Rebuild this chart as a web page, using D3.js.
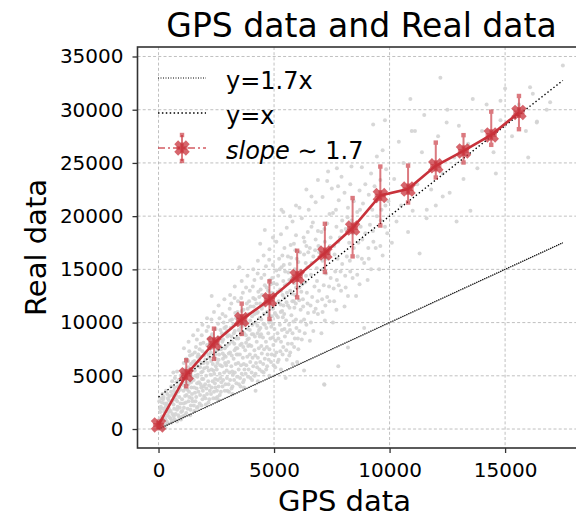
<!DOCTYPE html>
<html>
<head>
<meta charset="utf-8">
<script src="https://cdn.jsdelivr.net/npm/d3@7"></script>
<style>
  body { margin: 0; background: #fff; }
  text { font-family: "DejaVu Sans", sans-serif; }
</style>
</head>
<body>
<svg id="chart"></svg>
<script>
// ---------------- data ----------------
// binned means of Real data vs GPS data, with error bar ends
var binGps  = [0, 1200, 2400, 3600, 4800, 6000, 7200, 8400, 9600, 10800, 12000, 13200, 14400, 15600];
var binReal = [380, 5110, 8090, 10280, 12150, 14340, 16530, 18880, 21940, 22540, 24730, 26130, 27630, 29740];
var errLow  = [200, 4020, 6590, 8930, 10340, 12370, 14750, 16220, 19120, 21280, 23630, 25040, 26700, 28170];
var errHigh = [560, 6460, 9430, 11780, 13870, 16750, 19280, 21700, 24660, 24750, 26910, 27610, 29820, 31290];

// reference lines
var lineGps   = [0, 17500];
var upperReal = [3000, 32750];
var lowerReal = [0, 17500];

var xTicks = [0, 5000, 10000, 15000];
var yTicks = [0, 5000, 10000, 15000, 20000, 25000, 30000, 35000];

// raw points, [gps, real] in thousands
var cloud = [
  [0.05,0.2],[0.1,0.6],[0.2,0.3],[0.3,0.9],[0.15,1.2],[0.4,0.5],[0.25,1.6],[0.45,1.9],[0.1,2.1],[0.35,2.4],[0.2,2.8],[0.45,2.7],[0.05,1.0],[0.3,0.1],[0.4,1.3],[0.15,2.5],[0.48,3.1],[0.22,3.0],[0.33,1.8],[0.08,1.6],[0.42,2.2],[0.28,0.4],[0.12,0.9],[0.38,3.3],
  [0.55,0.6],[0.6,1.4],[0.7,0.9],[0.8,1.8],[0.65,2.3],[0.9,1.1],[0.75,2.8],[0.95,2.4],[0.6,3.2],[0.85,3.5],[0.7,3.9],[0.95,4.2],[0.55,4.0],[0.8,0.7],[0.9,3.0],[0.68,1.9],[0.88,4.6],[0.62,2.7],[0.78,4.4],[0.98,1.6],[0.72,3.4],[0.52,1.0],[0.83,2.1],[0.93,3.7],
  [1.05,1.2],[1.1,2.0],[1.2,1.5],[1.3,2.6],[1.15,3.1],[1.4,2.2],[1.25,3.7],[1.45,3.3],[1.1,4.1],[1.35,4.5],[1.2,5.0],[1.45,4.9],[1.05,5.3],[1.3,5.8],[1.4,6.1],[1.18,2.5],[1.38,1.8],[1.48,5.6],[1.22,4.4],[1.32,3.5],[1.08,3.6],[1.42,3.9],[1.28,6.4],[1.12,4.7],[1.36,6.9],[1.02,2.8],
  [1.55,1.7],[1.6,2.6],[1.7,2.1],[1.8,3.2],[1.65,3.8],[1.9,2.8],[1.75,4.4],[1.95,4.0],[1.6,5.0],[1.85,5.3],[1.7,5.9],[1.95,6.2],[1.55,6.4],[1.8,6.8],[1.9,7.3],[1.68,4.9],[1.88,4.7],[1.58,3.4],[1.78,2.4],[1.98,5.7],[1.72,7.0],[1.62,7.7],[1.92,3.6],[1.82,8.0],[1.52,4.6],[1.75,6.4],
  [2.05,2.3],[2.1,3.3],[2.2,2.8],[2.3,3.9],[2.15,4.5],[2.4,3.5],[2.25,5.1],[2.45,4.7],[2.1,5.8],[2.35,6.1],[2.2,6.7],[2.45,7.0],[2.05,7.2],[2.3,7.6],[2.4,8.2],[2.18,8.5],[2.38,5.5],[2.28,6.4],[2.48,5.9],[2.02,4.2],[2.12,6.2],[2.42,7.8],[2.32,8.9],[2.22,3.6],[2.08,9.2],[2.48,2.9],
  [2.55,3.0],[2.6,4.0],[2.7,3.5],[2.8,4.6],[2.65,5.2],[2.9,4.2],[2.75,5.9],[2.95,5.5],[2.6,6.5],[2.85,6.9],[2.7,7.5],[2.95,7.8],[2.55,8.0],[2.8,8.4],[2.9,9.0],[2.68,9.3],[2.88,6.2],[2.78,7.1],[2.98,8.7],[2.52,5.6],[2.62,7.0],[2.92,9.6],[2.72,4.4],[2.82,10.0],[2.58,9.9],[2.98,3.6],
  [3.05,3.5],[3.1,4.6],[3.2,4.0],[3.3,5.3],[3.15,5.9],[3.4,4.9],[3.25,6.6],[3.45,6.2],[3.1,7.2],[3.35,7.6],[3.2,8.2],[3.45,8.5],[3.05,8.8],[3.3,9.2],[3.4,9.9],[3.18,10.3],[3.38,7.0],[3.28,8.0],[3.48,10.6],[3.02,6.3],[3.12,9.5],[3.42,11.0],[3.22,5.1],[3.32,10.9],[3.08,11.3],[3.48,4.2],
  [3.55,4.0],[3.6,5.2],[3.7,4.6],[3.8,6.0],[3.65,6.7],[3.9,5.6],[3.75,7.4],[3.95,7.0],[3.6,8.0],[3.85,8.4],[3.7,9.0],[3.95,9.3],[3.55,9.6],[3.8,10.0],[3.9,10.8],[3.68,11.2],[3.88,7.8],[3.78,8.8],[3.98,11.5],[3.52,7.0],[3.62,10.4],[3.92,12.0],[3.72,5.6],[3.82,11.8],[3.58,12.3],[3.98,4.8],
  [4.05,4.6],[4.1,5.9],[4.2,5.2],[4.3,6.7],[4.15,7.4],[4.4,6.3],[4.25,8.2],[4.45,7.8],[4.1,8.9],[4.35,9.3],[4.2,10.0],[4.45,10.3],[4.05,10.6],[4.3,11.0],[4.4,11.8],[4.18,12.2],[4.38,8.7],[4.28,9.7],[4.48,12.6],[4.02,7.8],[4.12,11.5],[4.42,13.1],[4.22,6.2],[4.32,12.9],[4.08,13.4],[4.48,5.4],
  [4.55,5.3],[4.6,6.6],[4.7,5.9],[4.8,7.5],[4.65,8.2],[4.9,7.0],[4.75,9.0],[4.95,8.6],[4.6,9.8],[4.85,10.2],[4.7,11.0],[4.95,11.3],[4.55,11.6],[4.8,12.0],[4.9,12.8],[4.68,13.3],[4.88,9.6],[4.78,10.7],[4.98,13.7],[4.52,8.6],[4.62,12.5],[4.92,14.2],[4.72,7.0],[4.82,14.0],[4.58,14.5],[4.98,6.0],
  [5.05,5.8],[5.1,7.2],[5.2,6.5],[5.3,8.2],[5.15,9.0],[5.4,7.7],[5.25,9.8],[5.45,9.4],[5.1,10.7],[5.35,11.1],[5.2,12.0],[5.45,12.3],[5.05,12.6],[5.3,13.0],[5.4,13.9],[5.18,14.4],[5.38,10.5],[5.28,11.7],[5.48,14.8],[5.02,9.4],[5.12,13.6],[5.42,15.4],[5.22,16.0],[5.32,15.2],
  [5.55,6.5],[5.6,8.0],[5.7,7.2],[5.8,9.0],[5.65,9.8],[5.9,8.5],[5.75,10.7],[5.95,10.3],[5.6,11.6],[5.85,12.0],[5.7,13.0],[5.95,13.3],[5.55,13.6],[5.8,14.1],[5.9,15.0],[5.68,15.5],[5.88,11.4],[5.78,12.7],[5.98,16.0],[5.52,10.2],[5.62,14.7],[5.92,16.8],[5.72,17.3],
  [6.05,7.5],[6.1,9.2],[6.2,8.4],[6.3,10.3],[6.15,11.2],[6.4,9.8],[6.25,12.2],[6.45,11.8],[6.1,13.3],[6.35,13.8],[6.2,14.8],[6.45,15.2],[6.05,15.7],[6.3,16.4],[6.4,17.2],[6.18,12.9],[6.38,14.4],[6.28,18.0],[6.48,16.6],
  [6.55,8.3],[6.6,10.0],[6.7,9.2],[6.8,11.3],[6.65,12.4],[6.9,10.8],[6.75,13.4],[6.95,13.0],[6.6,14.5],[6.85,15.1],[6.7,16.2],[6.95,16.6],[6.55,17.0],[6.8,17.8],[6.9,18.6],[6.68,19.4],[6.88,12.0],
  [7.05,9.0],[7.1,11.0],[7.2,10.2],[7.3,12.4],[7.15,13.5],[7.4,12.0],[7.25,14.6],[7.45,14.2],[7.1,15.8],[7.35,16.5],[7.2,17.6],[7.45,18.0],[7.05,18.5],[7.3,19.3],[7.17,4.2],[7.4,20.2],
  [7.55,10.0],[7.6,12.0],[7.7,11.2],[7.8,13.5],[7.65,14.8],[7.9,13.0],[7.75,16.0],[7.95,15.5],[7.6,17.2],[7.85,18.0],[7.7,19.0],[7.95,19.6],[7.55,20.3],[7.8,21.5],[7.72,24.5],
  [8.05,11.5],[8.1,13.3],[8.2,12.5],[8.3,14.8],[8.15,16.2],[8.4,14.2],[8.25,17.5],[8.45,17.0],[8.1,18.8],[8.35,19.6],[8.2,20.8],[8.45,21.4],[8.05,22.2],[8.3,23.0],
  [8.55,12.5],[8.6,14.5],[8.7,13.6],[8.8,16.0],[8.65,17.5],[8.9,15.6],[8.75,19.0],[8.95,18.4],[8.6,20.4],[8.85,21.2],[8.7,22.4],[8.95,23.0],[8.8,24.6],
  [9.05,14.0],[9.1,16.0],[9.2,15.0],[9.3,17.6],[9.15,19.2],[9.4,17.0],[9.25,20.6],[9.45,20.0],[9.1,22.0],[9.35,22.8],[9.2,24.0],[9.45,25.6],
  [9.55,15.0],[9.6,17.2],[9.7,16.3],[9.8,19.0],[9.65,20.6],[9.9,18.4],[9.75,22.0],[9.95,21.4],[9.6,23.4],[9.85,24.4],[9.7,26.2],
  [10.1,17.5],[10.3,19.5],[10.5,21.0],[10.2,23.5],[10.6,25.0],[10.8,18.5],[10.4,27.0],[11.0,20.5],[11.2,23.0],[11.4,26.0],[11.1,28.0],[11.6,19.8],[11.8,22.5],[11.5,29.5],
  [12.0,21.0],[12.3,24.0],[12.1,27.5],[12.5,30.0],[12.6,22.2],[12.8,25.5],[13.0,28.5],[13.2,23.5],[13.4,26.8],[13.6,31.0],[13.8,24.5],[14.0,28.0],[14.2,30.5],[14.5,26.0],
  [14.8,29.0],[15.0,32.0],[15.3,27.5],[15.6,30.5],[15.9,28.0],[16.2,31.5],[16.8,30.0],[11.3,16.5],[12.9,19.5],[10.9,31.0],[9.8,29.0],[12.2,33.0],[14.6,24.0],[16.0,25.5],[13.5,20.5],
  [17.5,34.15],[16.08,32.1],[16.95,30.7],[14.8,30.85],[16.38,28.9],[10.96,28.0],[12.47,28.8],[9.29,28.6],[11.61,20.6],[12.3,21.85],[16.37,28.8],
  [4.6,18.7],[5.32,20.6],[7.34,24.2],[7.92,23.7],[8.35,24.66],[7.77,22.8],[6.62,21.85],
  [7.18,4.15],[7.78,5.9],[8.2,7.65],[5.5,4.8],[6.3,5.5],[4.2,3.6],[6.0,6.3],[8.9,9.5],
  // upper fringe of the cloud
  [1.1,7.6],[1.3,8.2],[1.5,8.8],[1.7,9.3],[1.9,9.8],[2.1,10.4],[2.4,11.0],[2.6,11.6],[2.85,12.2],[2.3,12.5],
  [3.1,12.6],[3.3,13.4],[3.6,13.9],[3.85,14.4],[3.5,15.2],[4.1,15.0],[4.3,15.8],[4.55,16.3],[4.8,16.9],[4.4,17.4],[4.95,18.0],
  [5.1,17.6],[5.3,18.3],[5.55,18.9],[5.8,19.5],[5.4,20.4],[5.95,21.0],[6.2,19.8],[6.5,20.6],[6.8,21.3],[6.4,22.5],[6.9,23.4],
  [7.1,21.8],[7.5,22.6],[7.3,23.3],[6.1,20.8],[5.7,20.0],
  // lower fringe near y = x
  [2.6,2.7],[3.2,3.3],[3.7,3.9],[4.3,4.5],[4.8,5.0],[5.3,5.6],[5.8,6.1]
];

// extra points filling the dense part of the cloud, [gps, real] in thousands
var cloudCore = [
  [0.02,0.5],[0.18,0.05],[0.27,1.1],[0.36,0.7],[0.47,1.1],[0.06,1.9],[0.19,1.9],[0.31,2.1],[0.44,1.6],[0.13,2.9],[0.26,2.4],[0.4,2.9],[0.03,2.6],[0.17,3.3],[0.32,3.6],
  [0.53,1.7],[0.58,0.8],[0.66,1.2],[0.74,1.4],[0.86,1.3],[0.97,0.9],[0.57,2.5],[0.69,2.9],[0.81,2.6],[0.92,2.0],[0.54,3.5],[0.67,3.6],[0.76,3.2],[0.91,3.9],[0.59,4.5],[0.71,4.8],[0.84,4.0],[0.96,5.0],[0.64,5.3],[0.8,5.4],
  [1.03,1.7],[1.14,1.3],[1.26,1.9],[1.37,1.3],[1.47,2.6],[1.09,2.4],[1.21,3.2],[1.33,3.0],[1.44,2.9],[1.06,4.4],[1.17,3.8],[1.29,4.2],[1.41,4.4],[1.02,5.0],[1.14,5.6],[1.26,5.3],[1.39,5.2],[1.49,6.3],[1.09,6.2],[1.2,6.6],[1.33,7.3],[1.46,7.0],
  [1.53,2.2],[1.66,2.0],[1.86,2.2],[1.97,3.1],[1.63,3.0],[1.73,3.5],[1.85,3.9],[1.54,3.9],[1.67,4.3],[1.82,4.2],[1.94,4.7],[1.57,5.5],[1.7,5.1],[1.8,5.8],[1.91,5.4],[1.6,6.0],[1.69,6.8],[1.86,6.2],[1.97,6.9],[1.57,7.2],[1.78,7.5],[1.94,8.1],[1.66,8.4],[1.87,8.8],
  [2.03,2.9],[2.16,2.5],[2.27,3.3],[2.37,2.9],[2.46,3.9],[2.07,3.8],[2.19,4.1],[2.34,4.5],[2.44,4.3],[2.06,5.0],[2.17,5.5],[2.29,5.6],[2.41,5.2],[2.03,6.5],[2.16,7.0],[2.26,7.2],[2.38,6.8],[2.48,6.6],[2.1,7.9],[2.24,8.0],[2.36,8.6],[2.47,9.4],[2.15,9.6],[2.29,10.3],
  [2.53,3.6],[2.65,3.2],[2.77,4.0],[2.87,3.6],[2.96,4.8],[2.57,4.6],[2.68,4.8],[2.84,5.3],[2.93,6.0],[2.55,6.2],[2.67,6.0],[2.79,6.6],[2.91,6.8],[2.53,7.4],[2.66,7.8],[2.76,8.2],[2.87,7.6],[2.97,9.2],[2.6,8.6],[2.74,9.0],[2.85,9.5],[2.64,10.4],[2.77,10.8],[2.9,10.6],
  [3.03,4.2],[3.16,3.8],[3.27,4.6],[3.37,4.3],[3.47,5.6],[3.07,5.3],[3.19,5.4],[3.34,6.1],[3.44,7.0],[3.04,7.1],[3.17,6.9],[3.29,7.4],[3.41,7.6],[3.06,8.0],[3.16,8.7],[3.26,9.0],[3.37,8.5],[3.47,9.3],[3.1,10.2],[3.24,9.8],[3.36,10.4],[3.44,12.0],[3.15,11.8],[3.29,12.3],
  [3.53,4.8],[3.66,4.4],[3.77,5.2],[3.87,4.9],[3.97,6.3],[3.57,6.0],[3.69,6.1],[3.84,6.8],[3.94,7.9],[3.54,7.9],[3.67,7.7],[3.79,8.1],[3.91,8.5],[3.56,8.9],[3.66,9.7],[3.76,9.9],[3.87,9.4],[3.97,10.2],[3.6,11.1],[3.74,10.7],[3.86,11.3],[3.95,13.0],[3.65,12.8],[3.79,13.3],
  [4.03,5.3],[4.16,5.0],[4.27,5.8],[4.37,5.6],[4.47,7.1],[4.07,6.7],[4.19,6.9],[4.34,7.6],[4.44,8.9],[4.04,8.9],[4.17,8.7],[4.29,9.0],[4.41,9.5],[4.06,9.8],[4.16,10.8],[4.26,10.9],[4.37,10.4],[4.47,11.3],[4.1,12.3],[4.24,11.8],[4.36,12.4],[4.45,14.2],[4.15,14.0],[4.29,14.6],
  [4.53,6.1],[4.66,5.6],[4.77,6.5],[4.87,6.3],[4.97,7.9],[4.57,7.5],[4.69,7.7],[4.84,8.5],[4.94,9.9],[4.54,9.9],[4.67,9.5],[4.79,10.0],[4.91,10.6],[4.56,10.8],[4.66,11.9],[4.76,12.0],[4.87,11.5],[4.97,12.4],[4.6,13.5],[4.74,13.0],[4.86,13.6],[4.95,15.4],[4.65,15.3],[4.79,15.9],
  [5.03,6.9],[5.16,6.3],[5.27,7.3],[5.37,7.0],[5.47,8.7],[5.07,8.3],[5.19,8.5],[5.34,9.3],[5.44,10.8],[5.04,10.9],[5.17,10.5],[5.29,11.0],[5.41,11.6],[5.06,11.8],[5.16,12.9],[5.26,13.1],[5.37,12.6],[5.47,13.5],[5.1,14.9],[5.24,15.0],[5.36,16.3],[5.45,17.0],
  [5.53,7.4],[5.66,6.9],[5.77,8.0],[5.87,7.7],[5.97,9.5],[5.57,9.1],[5.69,9.3],[5.84,10.1],[5.94,11.8],[5.54,11.9],[5.67,11.4],[5.79,12.0],[5.91,12.6],[5.56,12.8],[5.66,14.0],[5.76,14.2],[5.87,13.7],[5.97,14.6],[5.6,16.2],[5.74,16.1],[5.86,17.4],[5.95,18.2],
  [6.03,8.5],[6.17,10.1],[6.33,9.0],[6.47,10.9],[6.09,12.1],[6.26,11.5],[6.42,12.8],[6.06,14.1],[6.22,13.6],[6.37,15.6],[6.12,16.6],[6.32,17.6],[6.46,18.5],[6.58,11.6],[6.73,11.0],[6.86,13.9],[6.63,15.6],[6.78,16.8],[6.92,17.2],[6.62,19.0],
  [7.08,12.2],[7.22,11.6],[7.38,13.4],[7.12,15.0],[7.28,16.0],[7.42,17.2],[7.18,18.8],[7.58,13.2],[7.72,14.0],[7.88,14.8],[7.62,16.4],[7.78,17.6],[7.92,18.6],[7.68,20.6],
  [8.08,14.4],[8.28,15.8],[8.42,18.4],[8.18,19.9],[8.62,16.2],[8.82,17.8],[8.72,20.6],[9.08,17.0],[9.28,18.6],[9.42,21.4],[9.62,19.6],[9.82,21.0]
];

// ---------------- layout ----------------
var width = 576, height = 519;
var plot = {left: 137.5, top: 47, right: 585.5, bottom: 448};
var red = "#c8323b";

var svg = d3.select("#chart")
  .attr("width", width)
  .attr("height", height);

var x = d3.scaleLinear()
  .domain([-910, 18480])
  .range([plot.left, plot.right]);

var y = d3.scaleLinear()
  .domain([-1783, 35892])
  .range([plot.bottom, plot.top]);

// grid
var grid = svg.append("g").attr("class", "grid")
  .attr("stroke", "#b0b0b0")
  .attr("stroke-width", 0.8)
  .attr("stroke-dasharray", "3,2.2");

grid.selectAll(".gx").data(xTicks).enter().append("line")
  .attr("x1", function(d) { return x(d); })
  .attr("x2", function(d) { return x(d); })
  .attr("y1", plot.top)
  .attr("y2", plot.bottom);

grid.selectAll(".gy").data(yTicks).enter().append("line")
  .attr("y1", function(d) { return y(d); })
  .attr("y2", function(d) { return y(d); })
  .attr("x1", plot.left)
  .attr("x2", plot.right);

// scatter cloud
svg.append("g")
  .selectAll("circle")
  .data(cloud.concat(cloudCore))
  .enter().append("circle")
  .attr("cx", function(d) { return x(d[0] * 1000); })
  .attr("cy", function(d) { return y(d[1] * 1000); })
  .attr("r", 2)
  .attr("fill", "#d3d3d3")
  .attr("fill-opacity", 0.9);

// reference lines
var refLine = d3.line()
  .x(function(d) { return x(d[0]); })
  .y(function(d) { return y(d[1]); });

svg.append("path")
  .datum(lineGps.map(function(g, i) { return [g, upperReal[i]]; }))
  .attr("d", refLine)
  .attr("fill", "none")
  .attr("stroke", "#000")
  .attr("stroke-width", 1.4)
  .attr("stroke-dasharray", "1.4,2.4");

svg.append("path")
  .datum(lineGps.map(function(g, i) { return [g, lowerReal[i]]; }))
  .attr("d", refLine)
  .attr("fill", "none")
  .attr("stroke", "#000")
  .attr("stroke-width", 1.3)
  .attr("stroke-dasharray", "1.3,0.9");

// binned means
var bins = binGps.map(function(g, i) {
  return {gps: g, real: binReal[i], lo: errLow[i], hi: errHigh[i]};
});

var errG = svg.append("g")
  .attr("stroke", red)
  .attr("fill", red)
  .attr("opacity", 0.65);

errG.selectAll("line").data(bins).enter().append("line")
  .attr("x1", function(d) { return x(d.gps); })
  .attr("x2", function(d) { return x(d.gps); })
  .attr("y1", function(d) { return y(d.lo); })
  .attr("y2", function(d) { return y(d.hi); })
  .attr("stroke-width", 2);

// square caps at each end
errG.selectAll(".cap-lo").data(bins).enter().append("rect")
  .attr("x", function(d) { return x(d.gps) - 2.2; })
  .attr("y", function(d) { return y(d.lo) - 2.2; })
  .attr("width", 4.4).attr("height", 4.4)
  .attr("stroke", "none");

errG.selectAll(".cap-hi").data(bins).enter().append("rect")
  .attr("x", function(d) { return x(d.gps) - 2.2; })
  .attr("y", function(d) { return y(d.hi) - 2.2; })
  .attr("width", 4.4).attr("height", 4.4)
  .attr("stroke", "none");

svg.append("path")
  .datum(bins)
  .attr("d", d3.line()
    .x(function(d) { return x(d.gps); })
    .y(function(d) { return y(d.real); }))
  .attr("fill", "none")
  .attr("stroke", red)
  .attr("stroke-width", 2.6);

// star-ish markers (x + plus)
function drawMarker(sel) {
  sel.append("path")
    .attr("d", d3.symbol().type(d3.symbolCross).size(150))
    .attr("transform", "rotate(45)")
    .attr("fill", red)
    .attr("fill-opacity", 0.75);
  sel.append("path")
    .attr("d", d3.symbol().type(d3.symbolCross).size(70))
    .attr("fill", red)
    .attr("fill-opacity", 0.6);
}

svg.append("g")
  .selectAll("g")
  .data(bins)
  .enter().append("g")
  .attr("transform", function(d) { return "translate(" + x(d.gps) + "," + y(d.real) + ")"; })
  .call(drawMarker);

// white out anything past the frame
svg.append("rect")
  .attr("x", 0).attr("y", plot.bottom + 0.8)
  .attr("width", width).attr("height", height - plot.bottom)
  .attr("fill", "#fff");

// axes
var xAxis = svg.append("g")
  .attr("transform", "translate(0," + plot.bottom + ")")
  .call(d3.axisBottom(x).tickValues(xTicks).tickSize(5).tickPadding(10).tickSizeOuter(0).tickFormat(d3.format("d")));

var yAxis = svg.append("g")
  .attr("transform", "translate(" + plot.left + ",0)")
  .call(d3.axisLeft(y).tickValues(yTicks).tickSize(5).tickPadding(9).tickSizeOuter(0).tickFormat(d3.format("d")));

[xAxis, yAxis].forEach(function(a) {
  a.select(".domain").remove();
  a.selectAll("line").attr("stroke", "#333").attr("stroke-width", 1.3);
  a.selectAll("text")
    .attr("font-family", "DejaVu Sans")
    .attr("font-size", "20px")
    .attr("fill", "#000");
});

// frame
svg.append("rect")
  .attr("x", plot.left).attr("y", plot.top)
  .attr("width", plot.right - plot.left)
  .attr("height", plot.bottom - plot.top)
  .attr("fill", "none")
  .attr("stroke", "#333")
  .attr("stroke-width", 1.6);

// titles
svg.append("text")
  .attr("x", (plot.left + plot.right) / 2)
  .attr("y", 36.5)
  .attr("text-anchor", "middle")
  .attr("font-size", "33px")
  .text("GPS data and Real data");

svg.append("text")
  .attr("x", 344.5)
  .attr("y", 511)
  .attr("text-anchor", "middle")
  .attr("font-size", "29px")
  .text("GPS data");

svg.append("text")
  .attr("transform", "translate(46," + (plot.top + plot.bottom) / 2 + ") rotate(-90)")
  .attr("text-anchor", "middle")
  .attr("font-size", "29px")
  .text("Real data");

// legend
var legend = svg.append("g").attr("class", "legend");
var rows = [78, 113, 148];

legend.append("line")
  .attr("x1", 158).attr("x2", 206).attr("y1", rows[0]).attr("y2", rows[0])
  .attr("stroke", "#000").attr("stroke-width", 1).attr("stroke-dasharray", "1,1.5");

legend.append("line")
  .attr("x1", 158).attr("x2", 206).attr("y1", rows[1]).attr("y2", rows[1])
  .attr("stroke", "#000").attr("stroke-width", 1.5).attr("stroke-dasharray", "1.5,2.4");

legend.append("line")
  .attr("x1", 158).attr("x2", 206).attr("y1", rows[2]).attr("y2", rows[2])
  .attr("stroke", red).attr("stroke-opacity", 0.8).attr("stroke-width", 1.6)
  .attr("stroke-dasharray", "7,3,2,3");

legend.append("line")
  .attr("x1", 182).attr("x2", 182).attr("y1", rows[2] - 13).attr("y2", rows[2] + 13)
  .attr("stroke", red).attr("stroke-opacity", 0.65).attr("stroke-width", 2);

[rows[2] - 13, rows[2] + 13].forEach(function(cy) {
  legend.append("rect")
    .attr("x", 182 - 2.2).attr("y", cy - 2.2)
    .attr("width", 4.4).attr("height", 4.4)
    .attr("fill", red).attr("fill-opacity", 0.65);
});

legend.append("g")
  .attr("transform", "translate(182," + rows[2] + ")")
  .call(drawMarker);

var labels = legend.selectAll(".lab")
  .data(rows)
  .enter().append("text")
  .attr("x", 226)
  .attr("y", function(d) { return d + 11; })
  .attr("font-size", "24px");

d3.select(labels.nodes()[0]).text("y=1.7x");
d3.select(labels.nodes()[1]).text("y=x");
var slopeLab = d3.select(labels.nodes()[2]);
slopeLab.append("tspan").attr("font-style", "italic").text("slope");
slopeLab.append("tspan").text(" \u223C 1.7");
</script>
</body>
</html>
